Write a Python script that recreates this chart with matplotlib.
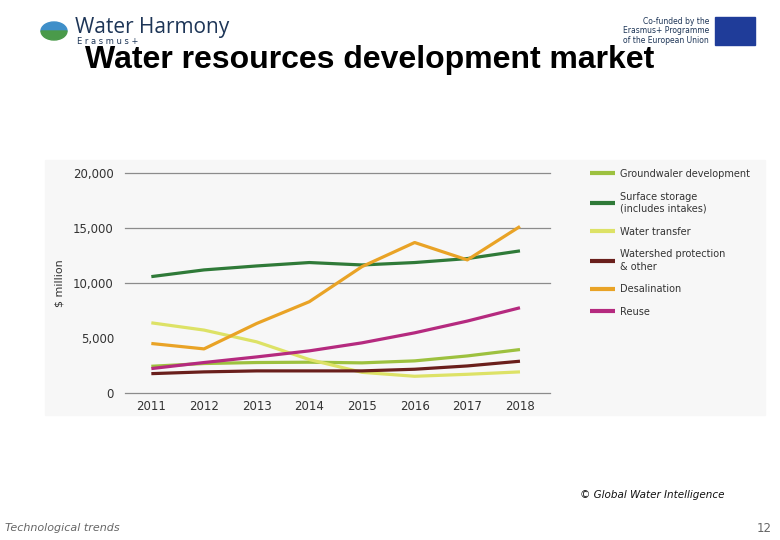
import matplotlib.pyplot as plt
from matplotlib.patches import Rectangle, Wedge

years = [2011, 2012, 2013, 2014, 2015, 2016, 2017, 2018]
groundwater = [2430, 2680, 2770, 2800, 2740, 2920, 3370, 3950]
surface = [10580, 11190, 11550, 11860, 11640, 11860, 12220, 12920]
transfer = [6380, 5720, 4650, 3040, 1880, 1520, 1700, 1920]
watershed = [1760, 1920, 2010, 2010, 2010, 2160, 2460, 2890]
desal = [4500, 4010, 6320, 8300, 11490, 13680, 12100, 15140]
reuse = [2220, 2770, 3280, 3830, 4560, 5470, 6540, 7750]

series = [
    ("Groundwaler development", groundwater, "#9dc13f"),
    ("Surface storage\n(includes intakes)", surface, "#2f7a38"),
    ("Water transfer", transfer, "#dde266"),
    ("Watershed protection\n& other", watershed, "#6a1f1c"),
    ("Desalination", desal, "#e9a326"),
    ("Reuse", reuse, "#b52a7f"),
]
yticks = [0, 5000, 10000, 15000, 20000]
grid_at = [0, 10000, 15000, 20000]

fig = plt.figure(figsize=(7.8, 5.4), dpi=100)
fig.patch.set_facecolor("white")

# light panel behind the chart picture
fig.patches.append(Rectangle((45 / 780, 1 - 415 / 540), 720 / 780, 255 / 540,
                             transform=fig.transFigure, color="#f7f7f7", zorder=-5))

ax = fig.add_axes([125 / 780, 1 - 393 / 540, 425 / 780, 220 / 540])
ax.set_zorder(2)
ax.set_facecolor("none")
for y in grid_at:
    ax.axhline(y, color="#8c8c8c", lw=0.9, zorder=1, clip_on=False)
lines = []
for name, vals, col in series:
    ln, = ax.plot(years, vals, color=col, lw=2.3, solid_capstyle="butt", zorder=3)
    lines.append(ln)
ax.set_xlim(2010.5, 2018.57)
ax.set_ylim(0, 20000)
ax.set_yticks(yticks)
ax.set_yticklabels(["{:,}".format(v) for v in yticks])
ax.set_xticks(years)
for s in ax.spines.values():
    s.set_visible(False)
ax.tick_params(length=0, labelsize=8.5, colors="#333333", pad=5)
ax.tick_params(axis="y", pad=8)
ax.set_ylabel(r"\$ million", fontsize=8, color="#333333", labelpad=6)

leg = fig.legend(lines, [s[0] for s in series], loc="upper left",
                 bbox_to_anchor=(586 / 780, 1 - 165 / 540), frameon=False,
                 fontsize=7, handlelength=2.6, handletextpad=0.5, labelspacing=1.3,
                 borderaxespad=0)
for t in leg.get_texts():
    t.set_color("#333333")
    t.set_linespacing(1.3)
for h in leg.get_lines():
    h.set_linewidth(3)

# title
fig.text(85 / 780, 1 - 60 / 540, "Water resources development market", fontsize=23,
         family="Liberation Sans", weight="bold", va="center", ha="left", color="black")

# logo left
fig.patches.append(Wedge((54 / 780, 1 - 31 / 540), 13 / 780, 0, 180,
                         transform=fig.transFigure, color="#3f8fc9"))
fig.patches.append(Wedge((54 / 780, 1 - 31 / 540), 13 / 780, 180, 360,
                         transform=fig.transFigure, color="#4a9a4a"))
fig.text(75 / 780, 1 - 28 / 540, "Water Harmony", fontsize=15, color="#1d3557",
         family="Open Sans", va="center")
fig.text(77 / 780, 1 - 42 / 540, "E r a s m u s +", fontsize=6, color="#1d3557", va="center")

# EU block right
fig.text(709 / 780, 1 - 31 / 540, "Co-funded by the\nErasmus+ Programme\nof the European Union",
         fontsize=5.5, color="#1d3557", ha="right", va="center", linespacing=1.1)
fig.patches.append(Rectangle((715 / 780, 1 - 45 / 540), 40 / 780, 28 / 540,
                             transform=fig.transFigure, color="#1f3c99"))

# footer
fig.text(725 / 780, 1 - 495 / 540, "\u00a9 Global Water Intelligence", fontsize=7.5,
         style="italic", ha="right", va="center", color="#111111")
fig.text(5 / 780, 1 - 528 / 540, "Technological trends", fontsize=8, style="italic",
         ha="left", va="center", color="#666666")
fig.text(772 / 780, 1 - 528 / 540, "12", fontsize=8.5, ha="right", va="center", color="#666666")

fig.savefig("out.png", dpi=100)
